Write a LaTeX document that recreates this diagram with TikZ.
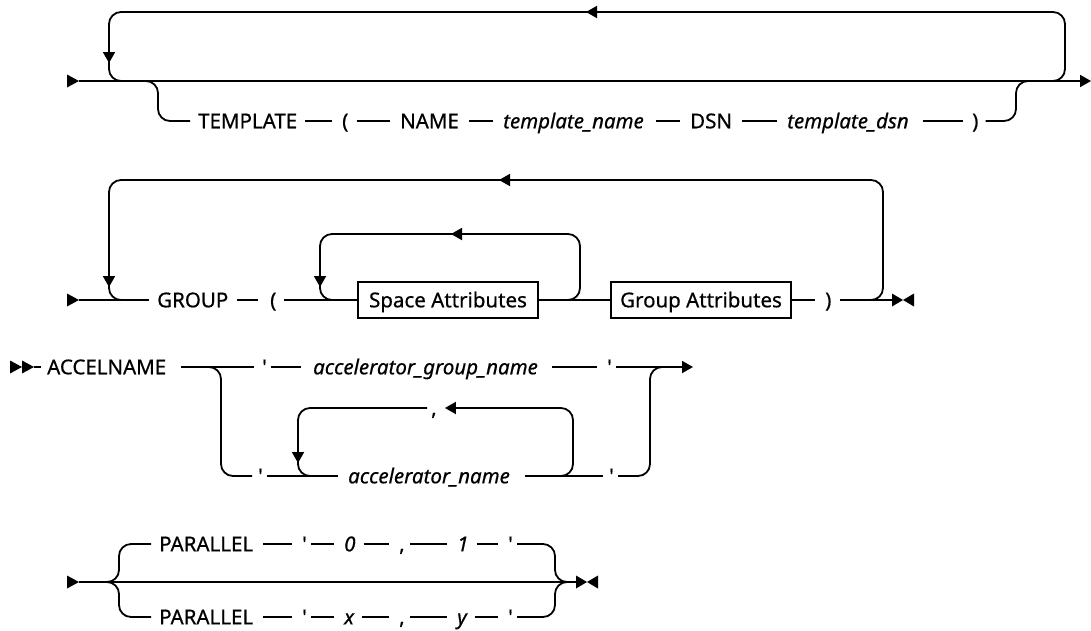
\documentclass[tikz,border=0pt]{standalone}
\usepackage{fontspec}
\setmainfont{Noto Sans}[BoldFont={Noto Sans}, BoldItalicFont={Noto Sans Italic},
  BoldFeatures={FakeBold=0.6}, BoldItalicFeatures={FakeBold=0.6}]
\usetikzlibrary{arrows.meta,calc}
\newcommand\rrStart[1]{\fill (#1) ++(0,-6.5) -- ++(12,6.5) -- ++(-12,6.5) -- cycle;}
\newcommand\rrStop[1]{\fill (#1) ++(0,-6.5) -- ++(11,6.5) -- ++(-11,6.5) -- cycle;
  \fill (#1) ++(22,-6.5) -- ++(-11,6.5) -- ++(11,6.5) -- cycle;}
\begin{document}
\begin{tikzpicture}[x=1pt,y=-1pt,
  trk/.style={line width=1.8pt, rounded corners=12pt},
  kw/.style={inner sep=0pt, text height=14.6pt, text depth=0pt, anchor=west,
    font=\fontsize{20.5}{24}\selectfont\bfseries},
  var/.style={kw, font=\fontsize{20.5}{24}\selectfont\bfseries\itshape},
  box/.style={draw, line width=1.8pt, minimum width=180pt, minimum height=36pt,
    inner sep=0pt, text height=14.6pt, text depth=0pt,
    font=\fontsize{20.5}{24}\selectfont\bfseries},
  tip/.style={-{Triangle[length=11pt,width=12pt]}},
  ]
\useasboundingbox (0,0) rectangle (1091,630);

% ===================== Diagram 1 =====================
\coordinate (s1) at (67,81);
\coordinate (m1a) at (79,81);
\coordinate (e1) at (1091,81);
\rrStart{s1}
\draw[trk,tip] (m1a) -- (e1);
% repeat loop
\coordinate (l1r) at (1041,81);
\coordinate (l1c) at (1065,12);
\coordinate (l1a) at (586,12);
\coordinate (l1b) at (598,12);
\coordinate (l1d) at (109,63);
\coordinate (l1e) at (109,50);
\coordinate (l1f) at (133,81);
\draw[trk,tip] (l1r) -| (l1c) -- (l1a);
\draw[trk,tip] (l1b) -| (l1d);
\draw[trk] (l1e) |- (l1f);
% optional branch
\node[kw]  (tpl) at (198,121) {TEMPLATE};
\node[kw]  (lp1) at (342,121) {(};
\node[kw]  (nam) at (400,121) {NAME};
\node[var] (tnm) at (503,121) {template\_name};
\node[kw]  (dsn) at (690,121) {DSN};
\node[var] (tds) at (787,121) {template\_dsn};
\node[kw]  (rp1) at (972,121) {)};
\coordinate (b1s) at (146,81);
\coordinate (b1v) at (158,121);
\coordinate (b1r) at (1016,81);
\coordinate (b1e) at (1028,81);
\draw[trk] (b1s) -| (b1v) -- ([xshift=-8pt]tpl.west);
\draw[trk] ([xshift=8pt]tpl.east) -- ([xshift=-10pt]lp1.west);
\draw[trk] ([xshift=8pt]lp1.east) -- ([xshift=-10pt]nam.west);
\draw[trk] ([xshift=10pt]nam.east) -- ([xshift=-10pt]tnm.west);
\draw[trk] ([xshift=12pt]tnm.east) -- ([xshift=-10pt]dsn.west);
\draw[trk] ([xshift=10pt]dsn.east) -- ([xshift=-10pt]tds.west);
\draw[trk] ([xshift=14pt]tds.east) -- ([xshift=-9pt]rp1.west);
\draw[trk] ([xshift=7pt]rp1.east) -| (b1r) -- (b1e);

% ===================== Diagram 2 =====================
\coordinate (s2) at (67,300);
\coordinate (m2a) at (79,300);
\coordinate (e2) at (892,300);
\rrStart{s2}
\rrStop{e2}
\node[kw]  (grp) at (157,300) {GROUP};
\node[kw]  (lp2) at (270,300) {(};
\node[box] (spa) at (448,300) {Space Attributes};
\node[box] (gra) at (701,300) {Group Attributes};
\node[kw]  (rp2) at (825,300) {)};
\draw[trk] (m2a) -- ([xshift=-8pt]grp.west);
\draw[trk] ([xshift=9pt]grp.east) -- ([xshift=-12pt]lp2.west);
\draw[trk] ([xshift=7pt]lp2.east) -- (spa.west);
\draw[trk] (spa.east) -- (gra.west);
\draw[trk] (gra.east) -- ([xshift=-10pt]rp2.west);
\draw[trk] ([xshift=8pt]rp2.east) -- (e2);
% outer loop
\coordinate (o2r) at (858,300);
\coordinate (o2c) at (883,180);
\coordinate (o2a) at (499,180);
\coordinate (o2b) at (511,180);
\coordinate (o2d) at (109,287);
\coordinate (o2e) at (109,276);
\coordinate (o2f) at (133,300);
\draw[trk,tip] (o2r) -| (o2c) -- (o2a);
\draw[trk,tip] (o2b) -| (o2d);
\draw[trk] (o2e) |- (o2f);
% inner loop
\coordinate (i2r) at (555,300);
\coordinate (i2c) at (580,234);
\coordinate (i2a) at (451,234);
\coordinate (i2b) at (463,234);
\coordinate (i2d) at (320,287);
\coordinate (i2e) at (320,276);
\coordinate (i2f) at (344,300);
\draw[trk,tip] (i2r) -| (i2c) -- (i2a);
\draw[trk,tip] (i2b) -| (i2d);
\draw[trk] (i2e) |- (i2f);

% ===================== Diagram 3 =====================
\coordinate (s3) at (10,367);
\coordinate (s3b) at (22,367);
\coordinate (m3a) at (34,367);
\rrStart{s3}
\rrStart{s3b}
\node[kw]  (acc) at (47,367) {ACCELNAME};
\node[kw]  (q1)  at (262,367) {\textquotesingle};
\node[var] (agn) at (313,367) {accelerator\_group\_name};
\node[kw]  (q2)  at (607,367) {\textquotesingle};
\coordinate (e3) at (693,367);
\draw[trk] (m3a) -- ([xshift=-6pt]acc.west);
\draw[trk] ([xshift=15pt]acc.east) -- ([xshift=-8pt]q1.west);
\draw[trk] ([xshift=4pt]q1.east) -- ([xshift=-12pt]agn.west);
\draw[trk] ([xshift=14pt]agn.east) -- ([xshift=-10pt]q2.west);
\draw[trk,tip] ([xshift=4pt]q2.east) -- (e3);
% second choice
\node[kw]  (q3) at (258,476) {\textquotesingle};
\node[var] (an) at (348,476) {accelerator\_name};
\node[kw]  (q4) at (609,476) {\textquotesingle};
\coordinate (b3s) at (209,367);
\coordinate (b3v) at (221,476);
\coordinate (b3r) at (650,367);
\coordinate (b3e) at (662,367);
\draw[trk] (b3s) -| (b3v) -- ([xshift=-6pt]q3.west);
\draw[trk] ([xshift=4pt]q3.east) -- ([xshift=-10pt]an.west);
\draw[trk] ([xshift=15pt]an.east) -- ([xshift=-6pt]q4.west);
\draw[trk] ([xshift=4pt]q4.east) -| (b3r) -- (b3e);
% comma repeat loop
\node[kw] (cm) at (431,408) {,};
\coordinate (c3r) at (549,476);
\coordinate (c3c) at (573,408);
\coordinate (c3d) at (298,463);
\coordinate (c3e) at (298,452);
\coordinate (c3f) at (322,476);
\draw[trk,tip] (c3r) -| (c3c) -- ([xshift=8pt]cm.east);
\draw[trk,tip] ([xshift=-4pt]cm.west) -| (c3d);
\draw[trk] (c3e) |- (c3f);

% ===================== Diagram 4 =====================
\coordinate (s4) at (67,582);
\coordinate (m4a) at (79,582);
\coordinate (e4) at (576,582);
\rrStart{s4}
\rrStop{e4}
\draw[trk] (m4a) -- (e4);
% top row
\node[kw]  (pa) at (159,544) {PARALLEL};
\node[kw]  (qa) at (302,544) {\textquotesingle};
\node[var] (za) at (344,544) {0};
\node[kw]  (ca) at (399,544) {,};
\node[var] (oa) at (457,544) {1};
\node[kw]  (qb) at (508,544) {\textquotesingle};
% bottom row
\node[kw]  (pb) at (159,617) {PARALLEL};
\node[kw]  (qc) at (302,617) {\textquotesingle};
\node[var] (xb) at (344,617) {x};
\node[kw]  (cb) at (399,617) {,};
\node[var] (yb) at (457,617) {y};
\node[kw]  (qd) at (508,617) {\textquotesingle};
\coordinate (j4l) at (107,582);
\coordinate (v4t) at (119,544);
\coordinate (v4b) at (119,617);
\coordinate (r4t) at (555,582);
\coordinate (r4e) at (567,582);
\draw[trk] (j4l) -| (v4t) -- ([xshift=-8pt]pa.west);
\draw[trk] (j4l) -| (v4b) -- ([xshift=-8pt]pb.west);
\draw[trk] ([xshift=10pt]pa.east) -- ([xshift=-10pt]qa.west);
\draw[trk] ([xshift=4pt]qa.east) -- ([xshift=-10pt]za.west);
\draw[trk] ([xshift=8pt]za.east) -- ([xshift=-10pt]ca.west);
\draw[trk] ([xshift=5pt]ca.east) -- ([xshift=-10pt]oa.west);
\draw[trk] ([xshift=8pt]oa.east) -- ([xshift=-10pt]qb.west);
\draw[trk] ([xshift=4pt]qb.east) -| (r4t) -- (r4e);
\draw[trk] ([xshift=10pt]pb.east) -- ([xshift=-10pt]qc.west);
\draw[trk] ([xshift=4pt]qc.east) -- ([xshift=-10pt]xb.west);
\draw[trk] ([xshift=8pt]xb.east) -- ([xshift=-10pt]cb.west);
\draw[trk] ([xshift=5pt]cb.east) -- ([xshift=-10pt]yb.west);
\draw[trk] ([xshift=8pt]yb.east) -- ([xshift=-10pt]qd.west);
\draw[trk] ([xshift=4pt]qd.east) -| (r4t) -- (r4e);
\end{tikzpicture}
\end{document}
